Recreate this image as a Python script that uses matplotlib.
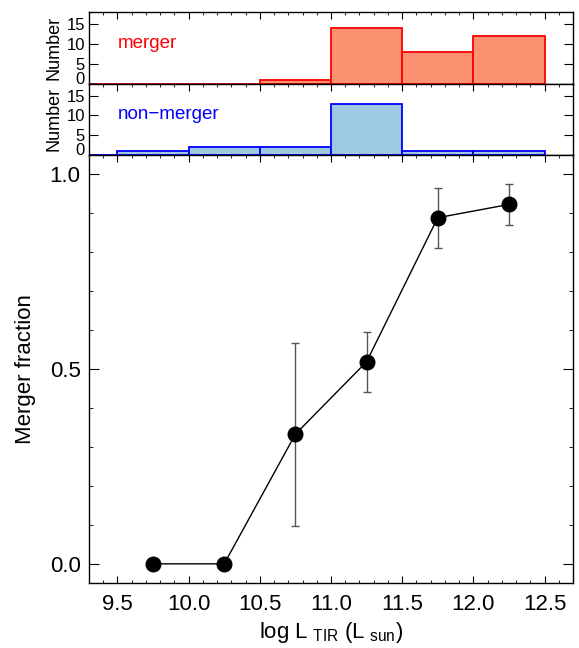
import matplotlib
matplotlib.use("Agg")
import matplotlib.pyplot as plt
from matplotlib.ticker import MultipleLocator

plt.rcParams["font.family"] = ["Liberation Sans", "DejaVu Sans"]
plt.rcParams["mathtext.fontset"] = "custom"
plt.rcParams["mathtext.rm"] = "Liberation Sans"
plt.rcParams["mathtext.default"] = "regular"

# histogram bins (left edges, width 0.5) and counts
bin_left = [9.0, 9.5, 10.0, 10.5, 11.0, 11.5, 12.0]
merger_counts = [0, 0, 0, 1, 14, 8, 12]
nonmerger_counts = [0, 1, 2, 2, 13, 1, 1]

# merger fraction per bin
frac_x = [9.75, 10.25, 10.75, 11.25, 11.75, 12.25]
frac_y = [0.0, 0.0, 0.333, 0.519, 0.889, 0.923]
frac_lo = [0.0, 0.0, 0.098, 0.441, 0.812, 0.870]
frac_hi = [0.0, 0.0, 0.567, 0.596, 0.964, 0.975]

W, H = 579, 648
fig = plt.figure(figsize=(W / 100, H / 100), dpi=100)

left, right = 89 / W, 573 / W


def frame(y_top, y_bot):
    return [left, 1 - y_bot / H, right - left, (y_bot - y_top) / H]


ax_m = fig.add_axes(frame(12.3, 83.7))
ax_n = fig.add_axes(frame(83.7, 155))
ax = fig.add_axes(frame(155, 583.3))

for a, counts, fc, ec, name in [
    (ax_m, merger_counts, "#fc9272", "#ff0000", "merger"),
    (ax_n, nonmerger_counts, "#9ecae1", "#0000ff", "non\u2212merger"),
]:
    a.bar(bin_left, counts, width=0.5, align="edge", color=fc,
          edgecolor=ec, linewidth=1.3)
    a.set_xlim(9.3, 12.7)
    a.set_ylim(0, 18)
    a.set_yticks([0, 5, 10, 15])
    a.xaxis.set_major_locator(MultipleLocator(0.5))
    a.xaxis.set_minor_locator(MultipleLocator(0.1))
    a.tick_params(axis="x", which="both", direction="in", top=True,
                  bottom=False, labelbottom=False)
    a.tick_params(axis="x", which="major", length=5)
    a.tick_params(axis="x", which="minor", length=2.5)
    a.tick_params(axis="y", direction="in", right=True, length=6.5,
                  labelsize=12, pad=3)
    a.set_ylabel("Number", fontsize=13, labelpad=3)
    a.text(9.5, 10.2, name, color=ec, fontsize=13.5, va="center")
    for s in a.spines.values():
        s.set_linewidth(1)
    # sit the "0" label on the panel's bottom edge
    a.get_yticklabels()[0].set_va("baseline")

ax.errorbar(frac_x, frac_y,
            yerr=[[y - lo for y, lo in zip(frac_y, frac_lo)],
                  [hi - y for y, hi in zip(frac_y, frac_hi)]],
            fmt="none", ecolor="#555555", elinewidth=1, capsize=3)
ax.plot(frac_x, frac_y, color="black", linewidth=1, marker="o",
        markersize=10.5)

ax.set_xlim(9.3, 12.7)
ax.set_ylim(-0.05, 1.05)
ax.xaxis.set_major_locator(MultipleLocator(0.5))
ax.xaxis.set_minor_locator(MultipleLocator(0.1))
ax.yaxis.set_major_locator(MultipleLocator(0.5))
ax.yaxis.set_minor_locator(MultipleLocator(0.1))
ax.xaxis.set_major_formatter(lambda v, p: f"{v:.1f}")
ax.yaxis.set_major_formatter(lambda v, p: f"{v:.1f}")
ax.tick_params(axis="x", which="major", direction="in", top=True,
               length=5, labelsize=16, pad=8)
ax.tick_params(axis="x", which="minor", direction="in", top=True,
               length=2.5)
ax.tick_params(axis="y", which="major", direction="in", right=True,
               length=7, labelsize=16, pad=6)
ax.tick_params(axis="y", which="minor", direction="in", right=True,
               length=3)
ax.set_xlabel(r"log L$_{\mathregular{\ TIR}}$ (L$_{\mathregular{\ sun}}$)",
              fontsize=16, labelpad=3)
ax.set_ylabel("Merger fraction", fontsize=16, labelpad=10)
for s in ax.spines.values():
    s.set_linewidth(1)

fig.savefig("out.png", dpi=100)
